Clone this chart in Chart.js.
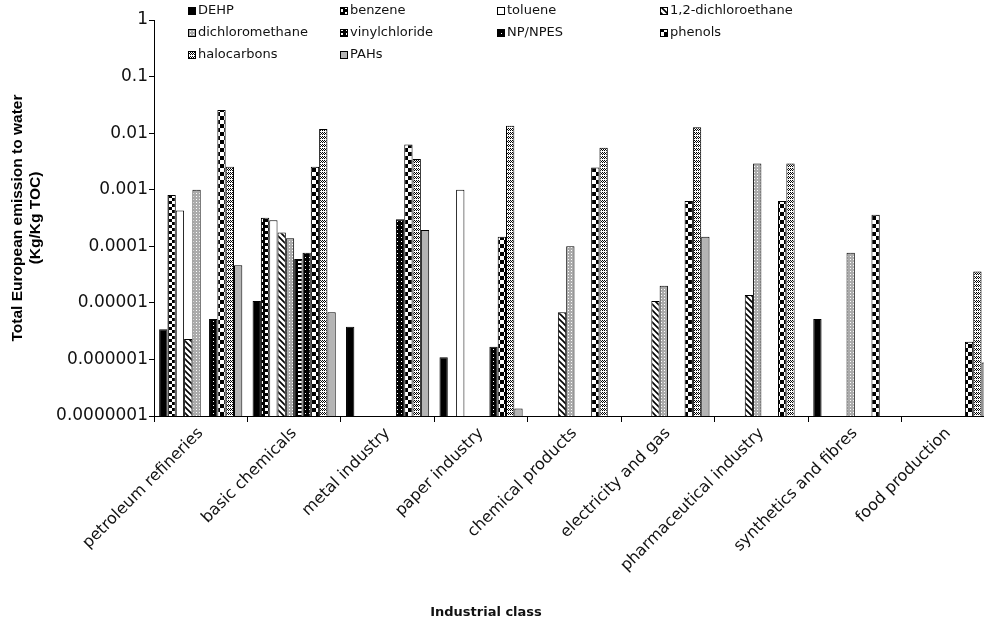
<!DOCTYPE html>
<html>
<head>
<meta charset="utf-8">
<script src="https://cdn.jsdelivr.net/npm/chart.js@4/dist/chart.umd.min.js"></script>
<style>
  html, body { margin: 0; padding: 0; background: #fff; overflow: hidden; }
</style>
</head>
<body>
<canvas id="chart" width="1000" height="624"></canvas>
<script>
// --- datos ---
const categories = ["petroleum refineries", "basic chemicals", "metal industry", "paper industry",
  "chemical products", "electricity and gas", "pharmaceutical industry", "synthetics and fibres", "food production"];

const seriesNames = ["DEHP", "benzene", "toluene", "1,2-dichloroethane", "dichloromethane",
  "vinylchloride", "NP/NPES", "phenols", "halocarbons", "PAHs"];

const dehp            = [3.4e-6, 1.08e-5, 3.8e-6, 1.09e-6, null, null, null, 5.2e-6, null];
const benzene         = [8.1e-4, 3.2e-4, null, null, null, null, null, null, null];
const toluene         = [4.3e-4, 2.9e-4, null, 1.0e-3, null, null, null, null, null];
const dichloroethane  = [2.3e-6, 1.76e-4, null, null, 6.8e-6, 1.08e-5, 1.38e-5, null, null];
const dichloromethane = [1.0e-3, 1.38e-4, null, null, 1.0e-4, 2.0e-5, 2.9e-3, 7.7e-5, null];
const vinylchloride   = [null, 5.96e-5, null, null, null, null, null, null, null];
const npnpes          = [5.2e-6, 7.7e-5, 3.0e-4, 1.68e-6, null, null, null, null, null];
const phenols         = [0.0257, 2.55e-3, 6.3e-3, 1.48e-4, 2.46e-3, 6.3e-4, 6.3e-4, 3.6e-4, 2.06e-6];
const halocarbons     = [2.55e-3, 0.0118, 3.5e-3, 0.0135, 5.5e-3, 0.0127, 2.9e-3, null, 3.6e-5];
const pahs            = [4.6e-5, 6.8e-6, 1.94e-4, 1.36e-7, null, 1.48e-4, null, null, 8.8e-7];

const seriesValues = [dehp, benzene, toluene, dichloroethane, dichloromethane,
  vinylchloride, npnpes, phenols, halocarbons, pahs];

const yTicks = [1e-7, 1e-6, 1e-5, 1e-4, 1e-3, 1e-2, 1e-1, 1];

// --- tramas (patterns) ---
const ctxMain = document.getElementById("chart").getContext("2d");

function makePattern(w, h, bg, draw) {
  const c = document.createElement("canvas");
  c.width = w; c.height = h;
  const g = c.getContext("2d");
  g.fillStyle = bg;
  g.fillRect(0, 0, w, h);
  draw(g);
  return ctxMain.createPattern(c, "repeat");
}

function rects(color, list) {
  return g => {
    g.fillStyle = color;
    list.forEach(r => g.fillRect(r[0], r[1], r[2], r[3]));
  };
}

const fills = [
  "#000000",
  makePattern(8, 6, "#000", rects("#fff", [[1, 0, 3, 3], [4, 3, 3, 3]])),
  "#ffffff",
  makePattern(6, 6, "#fff", g => {
    g.strokeStyle = "#000"; g.lineWidth = 1.6;
    g.beginPath();
    g.moveTo(-1, -1); g.lineTo(7, 7);
    g.moveTo(-4, 2); g.lineTo(4, 10);
    g.moveTo(2, -4); g.lineTo(10, 4);
    g.stroke();
  }),
  makePattern(3, 3, "#ababab", rects("#fff", [[1, 1, 1, 1]])),
  makePattern(8, 4, "#000", rects("#fff", [[2, 1, 5, 2]])),
  makePattern(4, 4, "#000", rects("#fff", [[1, 1, 1, 1]])),
  makePattern(8, 8, "#fff", rects("#000", [[0, 0, 4, 4], [4, 4, 4, 4]])),
  makePattern(4, 4, "#fff", rects("#000", [[0, 0, 1, 1], [2, 0, 1, 1], [1, 1, 1, 1], [3, 1, 1, 1], [0, 2, 1, 1], [2, 2, 1, 1]])),
  "#b4b4b4"
];

// --- leyenda en rejilla (4 columnas) ---
const legendCols = [188, 340, 497, 660];
const legendRows = [11, 33, 55];

const gridLegend = {
  id: "gridLegend",
  afterDraw(chart) {
    const c = chart.ctx;
    c.save();
    c.font = "13px 'DejaVu Sans'";
    c.textBaseline = "middle";
    c.textAlign = "left";
    chart.data.datasets.forEach((ds, i) => {
      const x = legendCols[i % 4];
      const y = legendRows[Math.floor(i / 4)];
      c.fillStyle = ds.backgroundColor;
      c.fillRect(x, y - 4, 8, 8);
      c.strokeStyle = "#000";
      c.lineWidth = 1;
      c.strokeRect(x + 0.5, y - 3.5, 7, 7);
      c.fillStyle = "#111";
      c.fillText(ds.label, x + 10, y);
    });
    c.restore();
  }
};

// --- título eje X ---
const xTitle = {
  id: "xTitle",
  afterDraw(chart) {
    const c = chart.ctx;
    c.save();
    c.font = "bold 13px 'DejaVu Sans'";
    c.fillStyle = "#111";
    c.textAlign = "center";
    c.textBaseline = "middle";
    c.fillText("Industrial class", 486, 613);
    c.restore();
  }
};

const datasets = seriesNames.map((name, i) => ({
  label: name,
  data: seriesValues[i],
  backgroundColor: fills[i],
  borderColor: "#000",
  borderWidth: 1
}));

new Chart(ctxMain, {
  type: "bar",
  data: { labels: categories, datasets: datasets },
  options: {
    responsive: false,
    animation: false,
    datasets: { bar: { categoryPercentage: 0.89, barPercentage: 1 } },
    layout: { padding: { top: 20, right: 5, left: 0, bottom: 0 } },
    plugins: {
      legend: { display: false },
      tooltip: { enabled: false }
    },
    scales: {
      x: {
        grid: { offset: true, drawOnChartArea: false, drawTicks: true, tickLength: 6, color: "#000" },
        border: { display: true, color: "#000", width: 1 },
        ticks: {
          autoSkip: false, maxRotation: 45, minRotation: 45, padding: 2,
          color: "#111", font: { family: "DejaVu Sans", size: 16 }
        },
        afterFit: s => { s.height = 208; }
      },
      y: {
        type: "logarithmic",
        min: 1e-7,
        max: 1,
        afterBuildTicks: s => { s.ticks = yTicks.map(v => ({ value: v })); },
        grid: { drawOnChartArea: false, drawTicks: true, tickLength: 5, color: "#000" },
        border: { display: true, color: "#000", width: 1 },
        ticks: {
          padding: 1,
          color: "#111",
          font: { family: "DejaVu Sans", size: 17 },
          callback: v => {
            const e = Math.round(Math.log10(v));
            return e >= 0 ? "1" : Number(v).toFixed(-e);
          }
        },
        title: {
          display: true,
          text: ["Total European emission to water", "(Kg/Kg TOC)"],
          color: "#000",
          font: { family: "Liberation Sans", weight: "bold", size: 15.5, lineHeight: 1.16 },
          padding: { top: 9, bottom: 0 }
        },
        afterFit: s => { s.width = 154; }
      }
    }
  },
  plugins: [gridLegend, xTitle]
});
</script>
</body>
</html>
